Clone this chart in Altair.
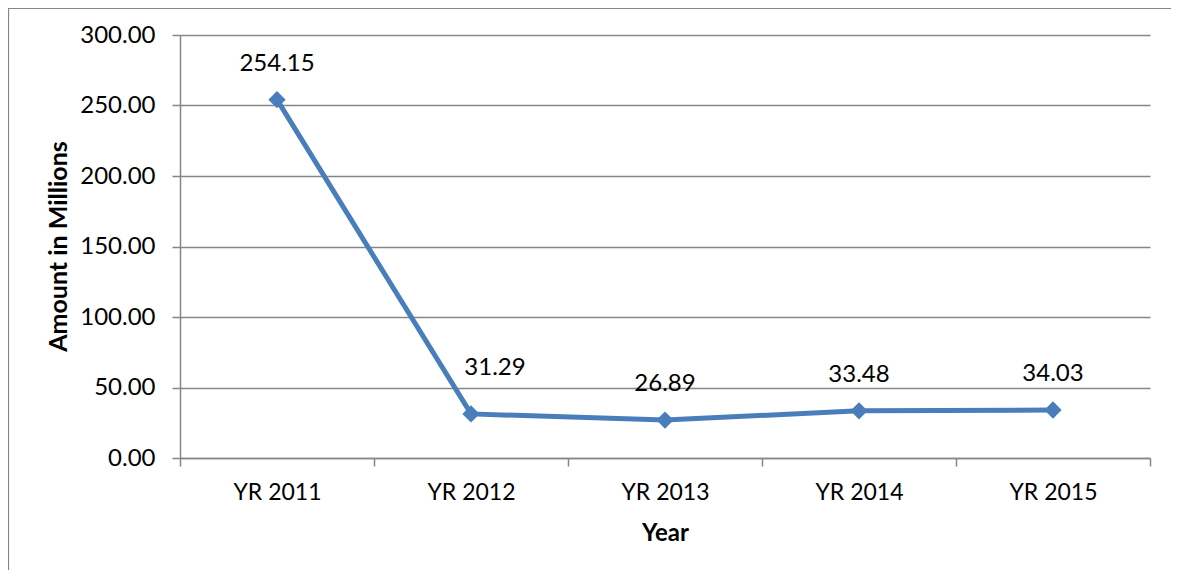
import altair as alt
import pandas as pd

years = ["YR 2011", "YR 2012", "YR 2013", "YR 2014", "YR 2015"]
amounts = [254.15, 31.29, 26.89, 33.48, 34.03]
y_ticks = [0, 50, 100, 150, 200, 250, 300]

df = pd.DataFrame({"Year": years, "Amount": amounts})

FONT = "Lato"
BLUE = "#4A7EBB"
GRAY = "#868686"
FS = 24

x_enc = alt.X(
    "Year:N",
    sort=years,
    bandPosition=0.5,
    scale=alt.Scale(paddingInner=0, paddingOuter=0),
    axis=alt.Axis(
        title="Year",
        tickBand="extent",
        labelAngle=0,
        tickSize=8,
        tickColor=GRAY,
        tickWidth=1.5,
        domainColor=GRAY,
        domainWidth=1.5,
        labelFont=FONT,
        labelFontSize=23,
        labelColor="#000000",
        labelBaseline="middle",
        labelPadding=26,
        titleFont=FONT,
        titleFontSize=FS,
        titleFontWeight="bold",
        titleColor="#000000",
        titleBaseline="middle",
        titleY=75,
        grid=False,
    ),
)

y_enc = alt.Y(
    "Amount:Q",
    scale=alt.Scale(domain=[0, 300], nice=False),
    axis=alt.Axis(
        title="Amount in Millions",
        values=y_ticks,
        format=".2f",
        tickSize=8,
        tickColor=GRAY,
        tickWidth=1.5,
        domainColor=GRAY,
        domainWidth=1.5,
        gridColor=GRAY,
        gridWidth=1.4,
        labelFont=FONT,
        labelFontSize=FS,
        labelColor="#000000",
        labelPadding=17,
        titleFont=FONT,
        titleFontSize=25,
        titleFontWeight="bold",
        titleColor="#000000",
        titleBaseline="middle",
        titleX=-122,
        titleY=211,
    ),
)

base = alt.Chart(df)

line = base.mark_line(color=BLUE, strokeWidth=5).encode(x=x_enc, y=y_enc)
points = base.mark_point(
    shape="diamond", filled=True, size=300, color=BLUE, opacity=1
).encode(x=x_enc, y=y_enc)

labels_main = base.transform_filter(alt.datum.Year != "YR 2012").mark_text(
    font=FONT, fontSize=FS, color="#000000", dy=-36, baseline="middle"
).encode(x=x_enc, y=y_enc, text=alt.Text("Amount:Q", format=".2f"))

labels_2012 = base.transform_filter(alt.datum.Year == "YR 2012").mark_text(
    font=FONT, fontSize=FS, color="#000000", dy=-46, dx=24, baseline="middle"
).encode(x=x_enc, y=y_enc, text=alt.Text("Amount:Q", format=".2f"))

border_left = alt.Chart(pd.DataFrame({"k": [0]})).mark_rule(
    color=GRAY, strokeWidth=1.2
).encode(x=alt.value(-171.5), y=alt.value(-27), y2=alt.value(540))

border_top = alt.Chart(pd.DataFrame({"k": [0]})).mark_rule(
    color=GRAY, strokeWidth=1.2
).encode(x=alt.value(-172), x2=alt.value(991), y=alt.value(-26.5))

chart = (
    alt.layer(line, points, labels_main, labels_2012, border_left, border_top)
    .properties(
        width=970,
        height=423,
        padding={"left": 172, "top": 27, "right": 21, "bottom": 112},
        autosize=alt.AutoSizeParams(type="none"),
        background="#ffffff",
    )
    .configure_view(stroke=None)
)

chart.save("out.html", embed_options={"renderer": "svg", "actions": False})
